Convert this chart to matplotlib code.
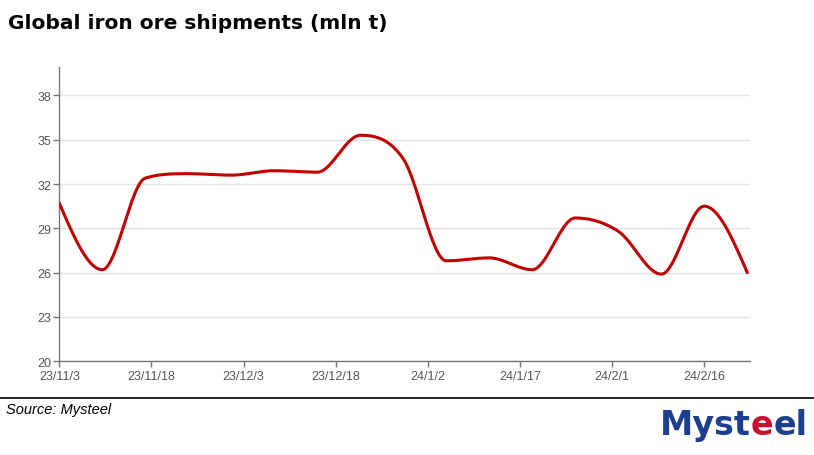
import numpy as np
import matplotlib
matplotlib.use("Agg")
import matplotlib.pyplot as plt
import matplotlib.dates as mdates
import datetime as dt

# ---- data ----
start_date = "2023-11-03"
n_weeks = 17
values = [30.7, 26.2, 32.4, 32.7, 32.6, 32.9, 32.8, 35.3, 33.7, 26.8,
          27.0, 26.2, 29.7, 28.8, 25.9, 30.5, 26.0]
y_ticks = [20, 23, 26, 29, 32, 35, 38]
x_tick_labels = ["23/11/3", "23/11/18", "23/12/3", "23/12/18",
                 "24/1/2", "24/1/17", "24/2/1", "24/2/16"]

title = "Global iron ore shipments (mln t)"
source = "Source: Mysteel"

d0 = dt.date.fromisoformat(start_date)
dates = [d0 + dt.timedelta(days=7 * i) for i in range(n_weeks)]
xnum = np.array(mdates.date2num(dates))
y = np.array(values)


def monotone_cubic(x, y, num=40):
    # Fritsch-Carlson monotone cubic interpolation (like d3.curveMonotoneX)
    h = np.diff(x)
    delta = np.diff(y) / h
    m = np.zeros_like(y)
    for k in range(1, len(y) - 1):
        if delta[k - 1] * delta[k] <= 0:
            m[k] = 0
        else:
            p = (delta[k - 1] * h[k] + delta[k] * h[k - 1]) / (h[k - 1] + h[k])
            lim = 3 * min(abs(delta[k - 1]), abs(delta[k]))
            m[k] = p if abs(p) <= lim else np.sign(p) * lim
    m[0] = (3 * delta[0] - m[1]) / 2
    m[-1] = (3 * delta[-1] - m[-2]) / 2
    xs, ys = [], []
    for k in range(len(y) - 1):
        t = np.linspace(0, 1, num, endpoint=(k == len(y) - 2))
        h00 = 2 * t**3 - 3 * t**2 + 1
        h10 = t**3 - 2 * t**2 + t
        h01 = -2 * t**3 + 3 * t**2
        h11 = t**3 - t**2
        xs.append(x[k] + t * h[k])
        ys.append(h00 * y[k] + h10 * h[k] * m[k] + h01 * y[k + 1] + h11 * h[k] * m[k + 1])
    return np.concatenate(xs), np.concatenate(ys)


xs, ys = monotone_cubic(xnum, y)

fig = plt.figure(figsize=(8.14, 4.56), dpi=100)
W, H = 814, 456
left, right, top, bottom = 59.3, 749.5, 68.3, 362.3
ax = fig.add_axes([left / W, 1 - bottom / H, (right - left) / W, (bottom - top) / H])

ax.plot(xs, ys, color="#c00000", lw=2.2, solid_capstyle="round", zorder=3)

ax.set_ylim(20, 39.9)
ax.set_yticks(y_ticks)
ax.set_yticklabels([str(v) for v in y_ticks])
x0 = xnum[0]
x1 = xnum[-1]
ax.set_xlim(x0, x0 + (x1 - x0) * (right - left) / (747.3 - left))
tick_pos = [x0 + 15 * i for i in range(len(x_tick_labels))]
ax.set_xticks(tick_pos)
ax.set_xticklabels(x_tick_labels)

ax.grid(axis="y", color="#e3e3e3", lw=1)
ax.set_axisbelow(True)
for s in ["top", "right"]:
    ax.spines[s].set_visible(False)
for s in ["left", "bottom"]:
    ax.spines[s].set_color("#777777")
    ax.spines[s].set_linewidth(1)
ax.tick_params(axis="both", colors="#777777", labelcolor="#555555",
               labelsize=9, length=4, width=1)
ax.tick_params(axis="y", pad=2)
ax.tick_params(axis="x", pad=2.5)
for lbl in ax.get_xticklabels() + ax.get_yticklabels():
    lbl.set_family("Liberation Sans")

fig.text(8 / W, 1 - 24 / H, title, fontsize=14.5, fontweight="bold",
         family="DejaVu Sans", va="center", ha="left", color="#000000")

fig.add_artist(plt.Line2D([0, 1], [1 - 399.3 / H, 1 - 399.3 / H], color="black", lw=1.2))
fig.text(6 / W, 1 - 410 / H, source, fontsize=10.5, style="italic",
         family="Liberation Sans", va="center", ha="left", color="#000000")

# logo text
blue = "#1d3f8f"
red = "#c8102e"
base = 1 - 435 / H
t1 = fig.text(660 / W, base, "Myst", fontsize=24, fontweight="bold",
              family="DejaVu Sans", color=blue, ha="left", va="baseline")
fig.canvas.draw()
bb = t1.get_window_extent()
t2 = fig.text(bb.x1 / W, base, "e", fontsize=24, fontweight="bold",
              family="DejaVu Sans", color=red, ha="left", va="baseline")
fig.canvas.draw()
bb2 = t2.get_window_extent()
fig.text(bb2.x1 / W, base, "el", fontsize=24, fontweight="bold",
         family="DejaVu Sans", color=blue, ha="left", va="baseline")

fig.savefig("out.png", dpi=100)
